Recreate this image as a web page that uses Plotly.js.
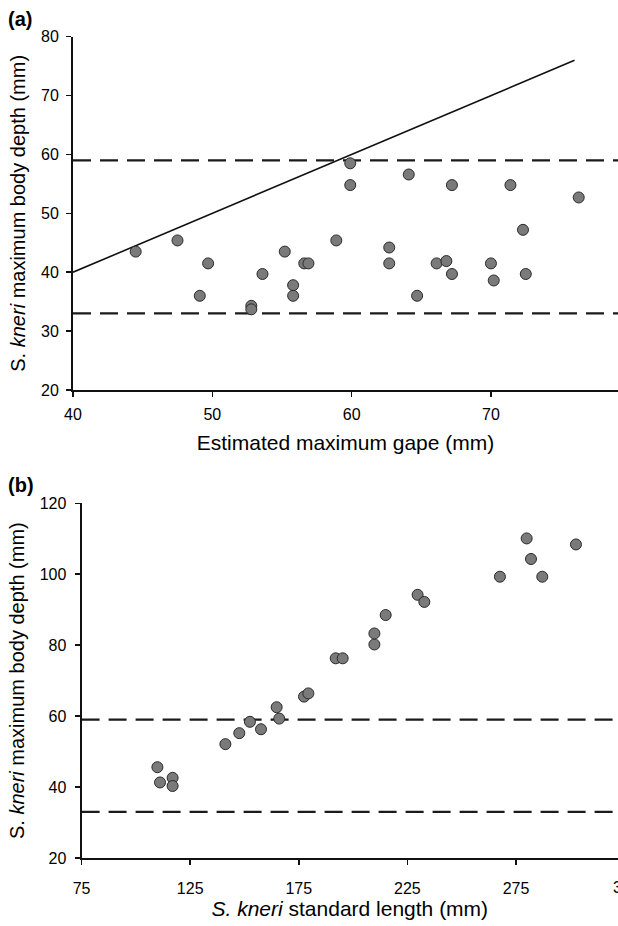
<!DOCTYPE html>
<html>
<head>
<meta charset="utf-8">
<script src="https://cdn.plot.ly/plotly-3.0.1.min.js"></script>
<style>html,body{margin:0;padding:0;background:#fff;}#chart{width:618px;height:926px;}</style>
</head>
<body>
<div id="chart"></div>
<script>
// Panel (a): estimated maximum gape vs S. kneri maximum body depth
const gapeA = [44.5, 47.5, 49.7, 49.1, 53.6, 52.8, 52.8, 55.2, 55.8, 55.8, 56.6, 56.9, 58.9, 59.9, 59.9,
               64.1, 67.2, 71.4, 76.3, 72.3, 62.7, 62.7, 66.1, 66.8, 67.2, 70.0, 70.2, 72.5, 64.7];
const depthA = [43.5, 45.4, 41.5, 36.0, 39.7, 34.3, 33.7, 43.5, 37.8, 36.0, 41.5, 41.5, 45.4, 58.5, 54.8,
                56.6, 54.8, 54.8, 52.7, 47.2, 44.2, 41.5, 41.5, 41.9, 39.7, 41.5, 38.6, 39.7, 36.0];
const lineA_x = [40, 76];
const lineA_y = [40, 76];

// Panel (b): S. kneri standard length vs maximum body depth
const lengthB = [109.9, 111.1, 116.9, 116.9, 141.2, 147.6, 152.5, 157.6, 164.8, 166.0, 177.4, 179.4,
                 192.0, 195.2, 209.8, 209.8, 215.0, 229.7, 232.8, 267.6, 279.9, 281.9, 287.1, 302.6];
const depthB = [45.6, 41.3, 42.6, 40.3, 52.1, 55.2, 58.4, 56.3, 62.5, 59.3, 65.5, 66.4,
                76.3, 76.3, 80.2, 83.3, 88.5, 94.2, 92.2, 99.3, 110.1, 104.3, 99.3, 108.4];

// Threshold lines (body depth, mm)
const thresholds = [59, 33];

const rangeA = [40, 79.12];
const rangeB = [75, 321.96];

const marker = {size: 11, color: '#7a7a7a', line: {color: '#2a2a2a', width: 1}};
const dashStyle = {color: '#1a1a1a', width: 2.2, dash: '18px,9px'};

const traces = [];
thresholds.forEach(t => {
  traces.push({x: rangeA, y: [t, t], xaxis: 'x', yaxis: 'y', mode: 'lines', line: dashStyle, hoverinfo: 'skip'});
  traces.push({x: rangeB, y: [t, t], xaxis: 'x2', yaxis: 'y2', mode: 'lines', line: dashStyle, hoverinfo: 'skip'});
});
traces.push({x: lineA_x, y: lineA_y, xaxis: 'x', yaxis: 'y', mode: 'lines', line: {color: '#111', width: 1.6}});
traces.push({x: gapeA, y: depthA, xaxis: 'x', yaxis: 'y', mode: 'markers', marker: marker});
traces.push({x: lengthB, y: depthB, xaxis: 'x2', yaxis: 'y2', mode: 'markers', marker: marker});

const font = {family: 'Liberation Sans, Arial, sans-serif', color: '#000'};
const tickFont = {family: font.family, size: 16, color: '#000'};
const xTitleFont = {family: font.family, size: 21, color: '#000'};
const yTitleFont = {family: font.family, size: 20, color: '#000'};

function ax(extra) {
  return Object.assign({
    showgrid: false, zeroline: false, showline: true, linecolor: '#111', linewidth: 2,
    ticks: 'outside', ticklen: 5, tickwidth: 1.5, tickcolor: '#111', tickfont: tickFont,
    fixedrange: true
  }, extra);
}

const W = 618, H = 926;
const layout = {
  width: W, height: H,
  margin: {l: 0, r: 0, t: 0, b: 0},
  paper_bgcolor: '#fff', plot_bgcolor: '#fff',
  showlegend: false,
  font: font,
  xaxis: ax({domain: [73 / W, 1], range: rangeA, tick0: 40, dtick: 10, anchor: 'y',
    ticklabelstandoff: 4,
    title: {text: 'Estimated maximum gape (mm)', font: xTitleFont, standoff: 13}}),
  yaxis: ax({domain: [(H - 390) / H, (H - 36.7) / H], range: [20, 80], tick0: 20, dtick: 10, anchor: 'x',
    ticklabelstandoff: 4,
    title: {text: 'S. <i>kneri</i> maximum body depth (mm)', font: yTitleFont, standoff: 10}}),
  xaxis2: ax({domain: [81.6 / W, 1], range: rangeB, tick0: 75, dtick: 50, anchor: 'y2',
    ticklabelstandoff: 10,
    title: {text: '<i>S. kneri</i> standard length (mm)', font: xTitleFont, standoff: 1}}),
  yaxis2: ax({domain: [(H - 858) / H, (H - 503.3) / H], range: [20, 120], tick0: 20, dtick: 20, anchor: 'x2',
    ticklabelstandoff: 5,
    title: {text: 'S. <i>kneri</i> maximum body depth (mm)', font: yTitleFont, standoff: 10}}),
  annotations: [
    {text: '<b>(a)</b>', xref: 'paper', yref: 'paper', x: 6 / W, y: (H - 19) / H, xanchor: 'left', yanchor: 'middle',
     showarrow: false, font: {family: font.family, size: 20, color: '#000'}},
    {text: '<b>(b)</b>', xref: 'paper', yref: 'paper', x: 6 / W, y: (H - 485) / H, xanchor: 'left', yanchor: 'middle',
     showarrow: false, font: {family: font.family, size: 20, color: '#000'}},
    {text: '325', xref: 'paper', yref: 'paper', x: 626 / W, y: (H - 887) / H, xanchor: 'center', yanchor: 'middle',
     showarrow: false, font: tickFont}
  ]
};

Plotly.newPlot('chart', traces, layout, {displayModeBar: false, staticPlot: true});
</script>
</body>
</html>
